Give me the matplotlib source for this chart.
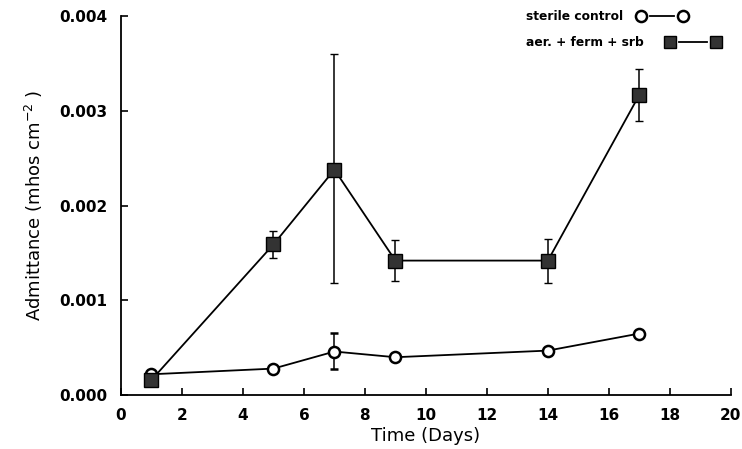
import matplotlib
matplotlib.use("Agg")
import matplotlib.pyplot as plt
from matplotlib.lines import Line2D
import numpy as np

days = [1, 5, 7, 9, 14, 17]
control = [0.00022, 0.00028, 0.00046, 0.00040, 0.00047, 0.00065]
control_lo = [0, 0, 0.00018, 0, 0, 0]
control_hi = [0, 0, 0.00020, 0, 0, 0]
mixed = [0.00016, 0.00159, 0.00238, 0.00142, 0.00142, 0.00317]
mixed_lo = [0, 0.00014, 0.00120, 0.00022, 0.00024, 0.00028]
mixed_hi = [0, 0.00014, 0.00122, 0.00022, 0.00023, 0.00027]
labels = ['sterile control', 'aer. + ferm + srb']

plt.rcParams['font.family'] = ['DejaVu Sans']
fig = plt.figure(figsize=(7.42, 4.49), dpi=100)
ax = fig.add_axes([0.163, 0.120, 0.822, 0.844])

ax.errorbar(days, control, yerr=[control_lo, control_hi], color='black', lw=1.3,
            marker='o', ms=8, mfc='white', mec='black', mew=1.8, capsize=3,
            elinewidth=1.1, capthick=1.5, zorder=3)
ax.errorbar(days, mixed, yerr=[mixed_lo, mixed_hi], color='black', lw=1.3,
            marker='s', ms=10, mfc='#333333', mec='black', mew=1, capsize=3,
            elinewidth=1.1, capthick=1.5, zorder=3)

ax.set_xlim(0, 20)
ax.set_ylim(0, 0.004)
ax.set_xticks(np.arange(0, 21, 2))
ax.set_yticks([0, 0.001, 0.002, 0.003, 0.004])
ax.set_yticklabels(['0.000', '0.001', '0.002', '0.003', '0.004'])
ax.spines['top'].set_visible(False)
ax.spines['right'].set_visible(False)
ax.spines['left'].set_linewidth(1.3)
ax.spines['bottom'].set_linewidth(1.3)
ax.tick_params(direction='in', length=5, width=1.2, labelsize=11)
for lab in ax.get_xticklabels() + ax.get_yticklabels():
    lab.set_fontweight('bold')
ax.tick_params(axis='y', pad=10)
ax.tick_params(axis='x', pad=9)
ax.set_xlabel('Time (Days)', fontsize=13, labelpad=3)
ax.set_ylabel(r'Admittance (mhos cm$^{-2}$ )', fontsize=13, labelpad=10)

# legend drawn as text followed by marker-line-marker samples
W, H = 742.0, 449.0
rows = [
    (labels[0], 16, 641, 683, dict(marker='o', ms=8, mfc='white', mec='black', mew=1.8)),
    (labels[1], 42, 670, 716, dict(marker='s', ms=9, mfc='#333333', mec='black', mew=1)),
]
for text, yp, x1, x2, mk in rows:
    fig.text(526 / W, 1 - yp / H, text, fontsize=8.8, fontweight='bold',
             ha='left', va='center')
    fig.add_artist(Line2D([(x1 + 9) / W, (x2 - 9) / W], [1 - yp / H, 1 - yp / H],
                          color='black', lw=1.3, transform=fig.transFigure))
    fig.add_artist(Line2D([x1 / W, x2 / W], [1 - yp / H, 1 - yp / H],
                          color='black', lw=0, transform=fig.transFigure, **mk))

fig.savefig('out.png', dpi=100)
